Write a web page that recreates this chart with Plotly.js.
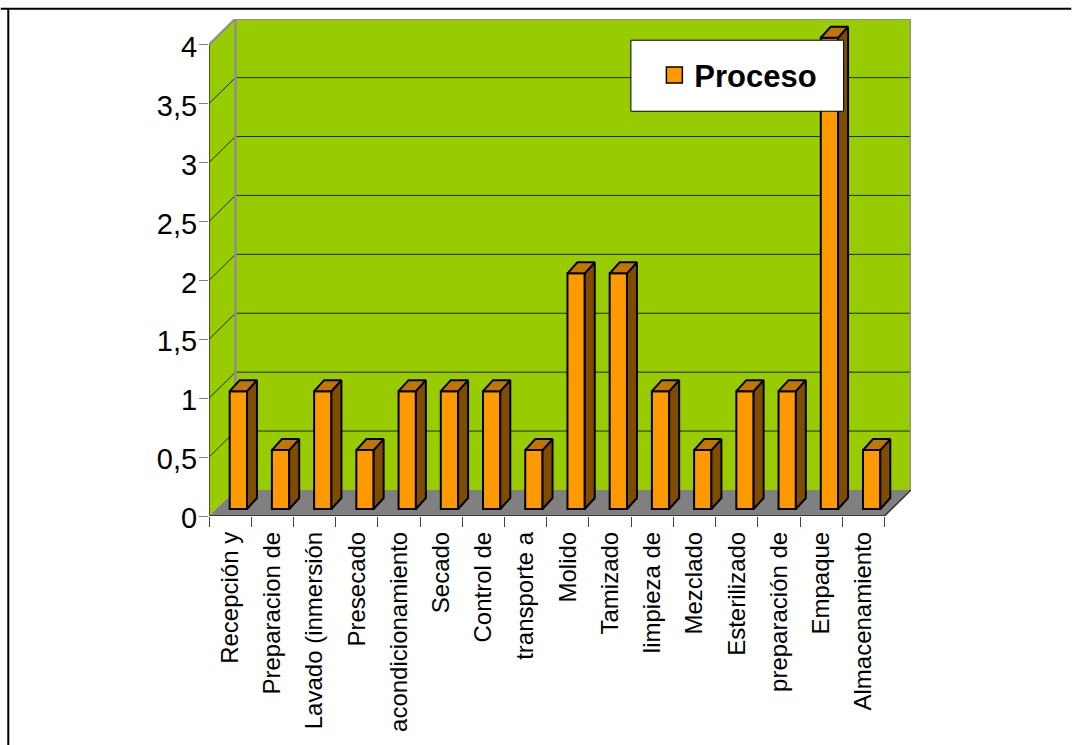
<!DOCTYPE html>
<html>
<head>
<meta charset="utf-8">
<script src="https://cdn.plot.ly/plotly-3.0.1.min.js"></script>
<style>html,body{margin:0;padding:0;background:#fff}</style>
</head>
<body>
<div id="chart" style="width:1072px;height:745px"></div>
<script>
// Process stages and their values
const categories = ["Recepción y","Preparacion de","Lavado (inmersión","Presecado","acondicionamiento","Secado","Control de","transporte a","Molido","Tamizado","limpieza de","Mezclado","Esterilizado","preparación de","Empaque","Almacenamiento"];
const values = [1,0.5,1,0.5,1,1,1,0.5,2,2,1,0.5,1,1,4,0.5];
const seriesName = "Proceso";

// Colours of the extruded box and bars
const ORANGE = "#FF9900", ORANGE_TOP = "#C07600", ORANGE_SIDE = "#804D00";
const WALL = "#99CC00", FLOOR = "#808080", FRAME = "#8F8F8F";

// Pixel frame of the plot, used only to derive the axis ranges
const W = 1072, H = 745;
const L = 208.5, R = 911.5, T = 19.3, B = 516;
const PX_X = 42.28, PX_Y = 117.75;

// Oblique depth of the box and of each bar, in axis units
const boxDx = 26.5 / PX_X, boxDy = 26 / PX_Y;
const barDx = 10 / PX_X, barDy = 11 / PX_Y;
const barLift = 7 / PX_Y, barOffset = -0.01, barWidth = 0.41;

const xMin = -0.5, xMax = categories.length - 0.5, yMax = 4;
const centres = categories.map((_, i) => i);
const boundaries = categories.map((_, i) => i - 0.5).concat(xMax);
const gridLevels = [0.5,1,1.5,2,2.5,3,3.5,4];

const poly = pts => "M" + pts.map(p => p[0] + "," + p[1]).join("L") + "Z";
const seg = (a, b, color, width) => ({
  type: "line", xref: "x", yref: "y", layer: "below",
  x0: a[0], y0: a[1], x1: b[0], y1: b[1], line: {color, width}
});
const px = x => (x - L) / (R - L);
const py = y => 1 - (y - T) / (B - T);

// Walls, floor and grid of the box
const shapes = [
  {type:"path", xref:"x", yref:"y", layer:"below", fillcolor:WALL, line:{width:0},
   path: poly([[xMin,0],[xMin+boxDx,boxDy],[xMin+boxDx,yMax+boxDy],[xMin,yMax]])},
  {type:"path", xref:"x", yref:"y", layer:"below", fillcolor:WALL, line:{width:0},
   path: poly([[xMin+boxDx,boxDy],[xMax+boxDx,boxDy],[xMax+boxDx,yMax+boxDy],[xMin+boxDx,yMax+boxDy]])},
  {type:"path", xref:"x", yref:"y", layer:"below", fillcolor:FLOOR, line:{width:0},
   path: poly([[xMin,0],[xMax,0],[xMax+boxDx,boxDy],[xMin+boxDx,boxDy]])}
];
gridLevels.slice(0,-1).forEach(v => {
  shapes.push(seg([xMin,v],[xMin+boxDx,v+boxDy],"#1c2a00",1));
  shapes.push(seg([xMin+boxDx,v+boxDy],[xMax+boxDx,v+boxDy],"#1c2a00",1));
});
shapes.push(
  seg([xMin+boxDx,boxDy],[xMin+boxDx,yMax+boxDy],FRAME,2.5),
  seg([xMin+boxDx,yMax+boxDy],[xMax+boxDx,yMax+boxDy],FRAME,2.5),
  seg([xMax+boxDx,boxDy],[xMax+boxDx,yMax+boxDy],FRAME,2.5),
  seg([xMin,yMax],[xMin+boxDx,yMax+boxDy],FRAME,2.5),
  seg([xMin,0],[xMin,yMax],"#333333",1.5),
  seg([xMin,0],[xMax,0],"#222222",1.5),
  seg([xMax,0],[xMax+boxDx,boxDy],"#333333",1.5)
);

// Legend panel and outer frame lines
shapes.push(
  {type:"rect", xref:"paper", yref:"paper", layer:"above",
   x0:px(631), x1:px(844), y0:py(111.5), y1:py(40.5),
   fillcolor:"#ffffff", line:{color:"#000000", width:1}},
  {type:"line", xref:"paper", yref:"paper", layer:"above",
   x0:px(0), x1:px(W), y0:py(9), y1:py(9), line:{color:"#000000", width:2}},
  {type:"line", xref:"paper", yref:"paper", layer:"above",
   x0:px(7.5), x1:px(7.5), y0:py(9), y1:py(H), line:{color:"#000000", width:2}}
);

// Side and top faces of each bar, separated by gaps
const sideX = [], sideY = [], topX = [], topY = [];
values.forEach((v, i) => {
  const x0 = i + barOffset, x1 = x0 + barWidth;
  const y0 = barLift, y1 = barLift + v;
  sideX.push(x1, x1+barDx, x1+barDx, x1, x1, null);
  sideY.push(y0, y0+barDy, y1+barDy, y1, y0, null);
  topX.push(x0, x1, x1+barDx, x0+barDx, x0, null);
  topY.push(y1, y1, y1+barDy, y1+barDy, y1, null);
});

const outline = {color:"#000000", width:2};
const traces = [
  {type:"bar", x:centres, y:values, base:barLift, offset:barOffset, width:barWidth,
   marker:{color:ORANGE, line:outline}, showlegend:false, hoverinfo:"x+y"},
  {type:"scatter", mode:"lines", x:sideX, y:sideY, fill:"toself", fillcolor:ORANGE_SIDE,
   line:outline, showlegend:false, hoverinfo:"skip"},
  {type:"scatter", mode:"lines", x:topX, y:topY, fill:"toself", fillcolor:ORANGE_TOP,
   line:outline, showlegend:false, hoverinfo:"skip"},
  {type:"scatter", mode:"markers", x:[null], y:[null], name:seriesName,
   marker:{symbol:"square", size:16, color:ORANGE, line:{color:"#000000", width:1.5}},
   hoverinfo:"skip"}
];

const layout = {
  width: W, height: H, autosize: false,
  margin: {l:L, r:W-R, t:T, b:H-B, pad:0},
  paper_bgcolor:"#ffffff", plot_bgcolor:"rgba(0,0,0,0)",
  separators: ",.",
  font: {family:'"Liberation Sans", Arial, sans-serif', color:"#000000"},
  bargap: 0,
  xaxis: {
    type:"linear", range:[xMin, xMin + (R-L)/PX_X], showgrid:false, zeroline:false, showline:false,
    tickmode:"array", tickvals:centres, ticktext:categories, ticks:"", tickangle:-90,
    ticklabelstandoff:10, tickfont:{size:24},
    minor:{tickmode:"array", tickvals:boundaries, ticks:"outside", ticklen:10, tickwidth:1, tickcolor:"#444444", showgrid:false}
  },
  yaxis: {
    type:"linear", range:[0, (B-T)/PX_Y], showgrid:false, zeroline:false, showline:false,
    tick0:0, dtick:0.5, ticks:"outside", ticklen:9, tickwidth:1, tickcolor:"#808080",
    ticklabelstandoff:-4, ticklabelshift:2,
    tickfont:{size:29}
  },
  shapes,
  showlegend: true,
  legend: {
    x:px(654.5), y:py(75.5), xanchor:"left", yanchor:"middle",
    bgcolor:"rgba(0,0,0,0)", borderwidth:0,
    font:{size:31, color:"#000000", family:'"Liberation Sans", Arial, sans-serif', weight:"bold"}
  }
};

Plotly.newPlot("chart", traces, layout, {staticPlot:true, displayModeBar:false});
</script>
</body>
</html>
